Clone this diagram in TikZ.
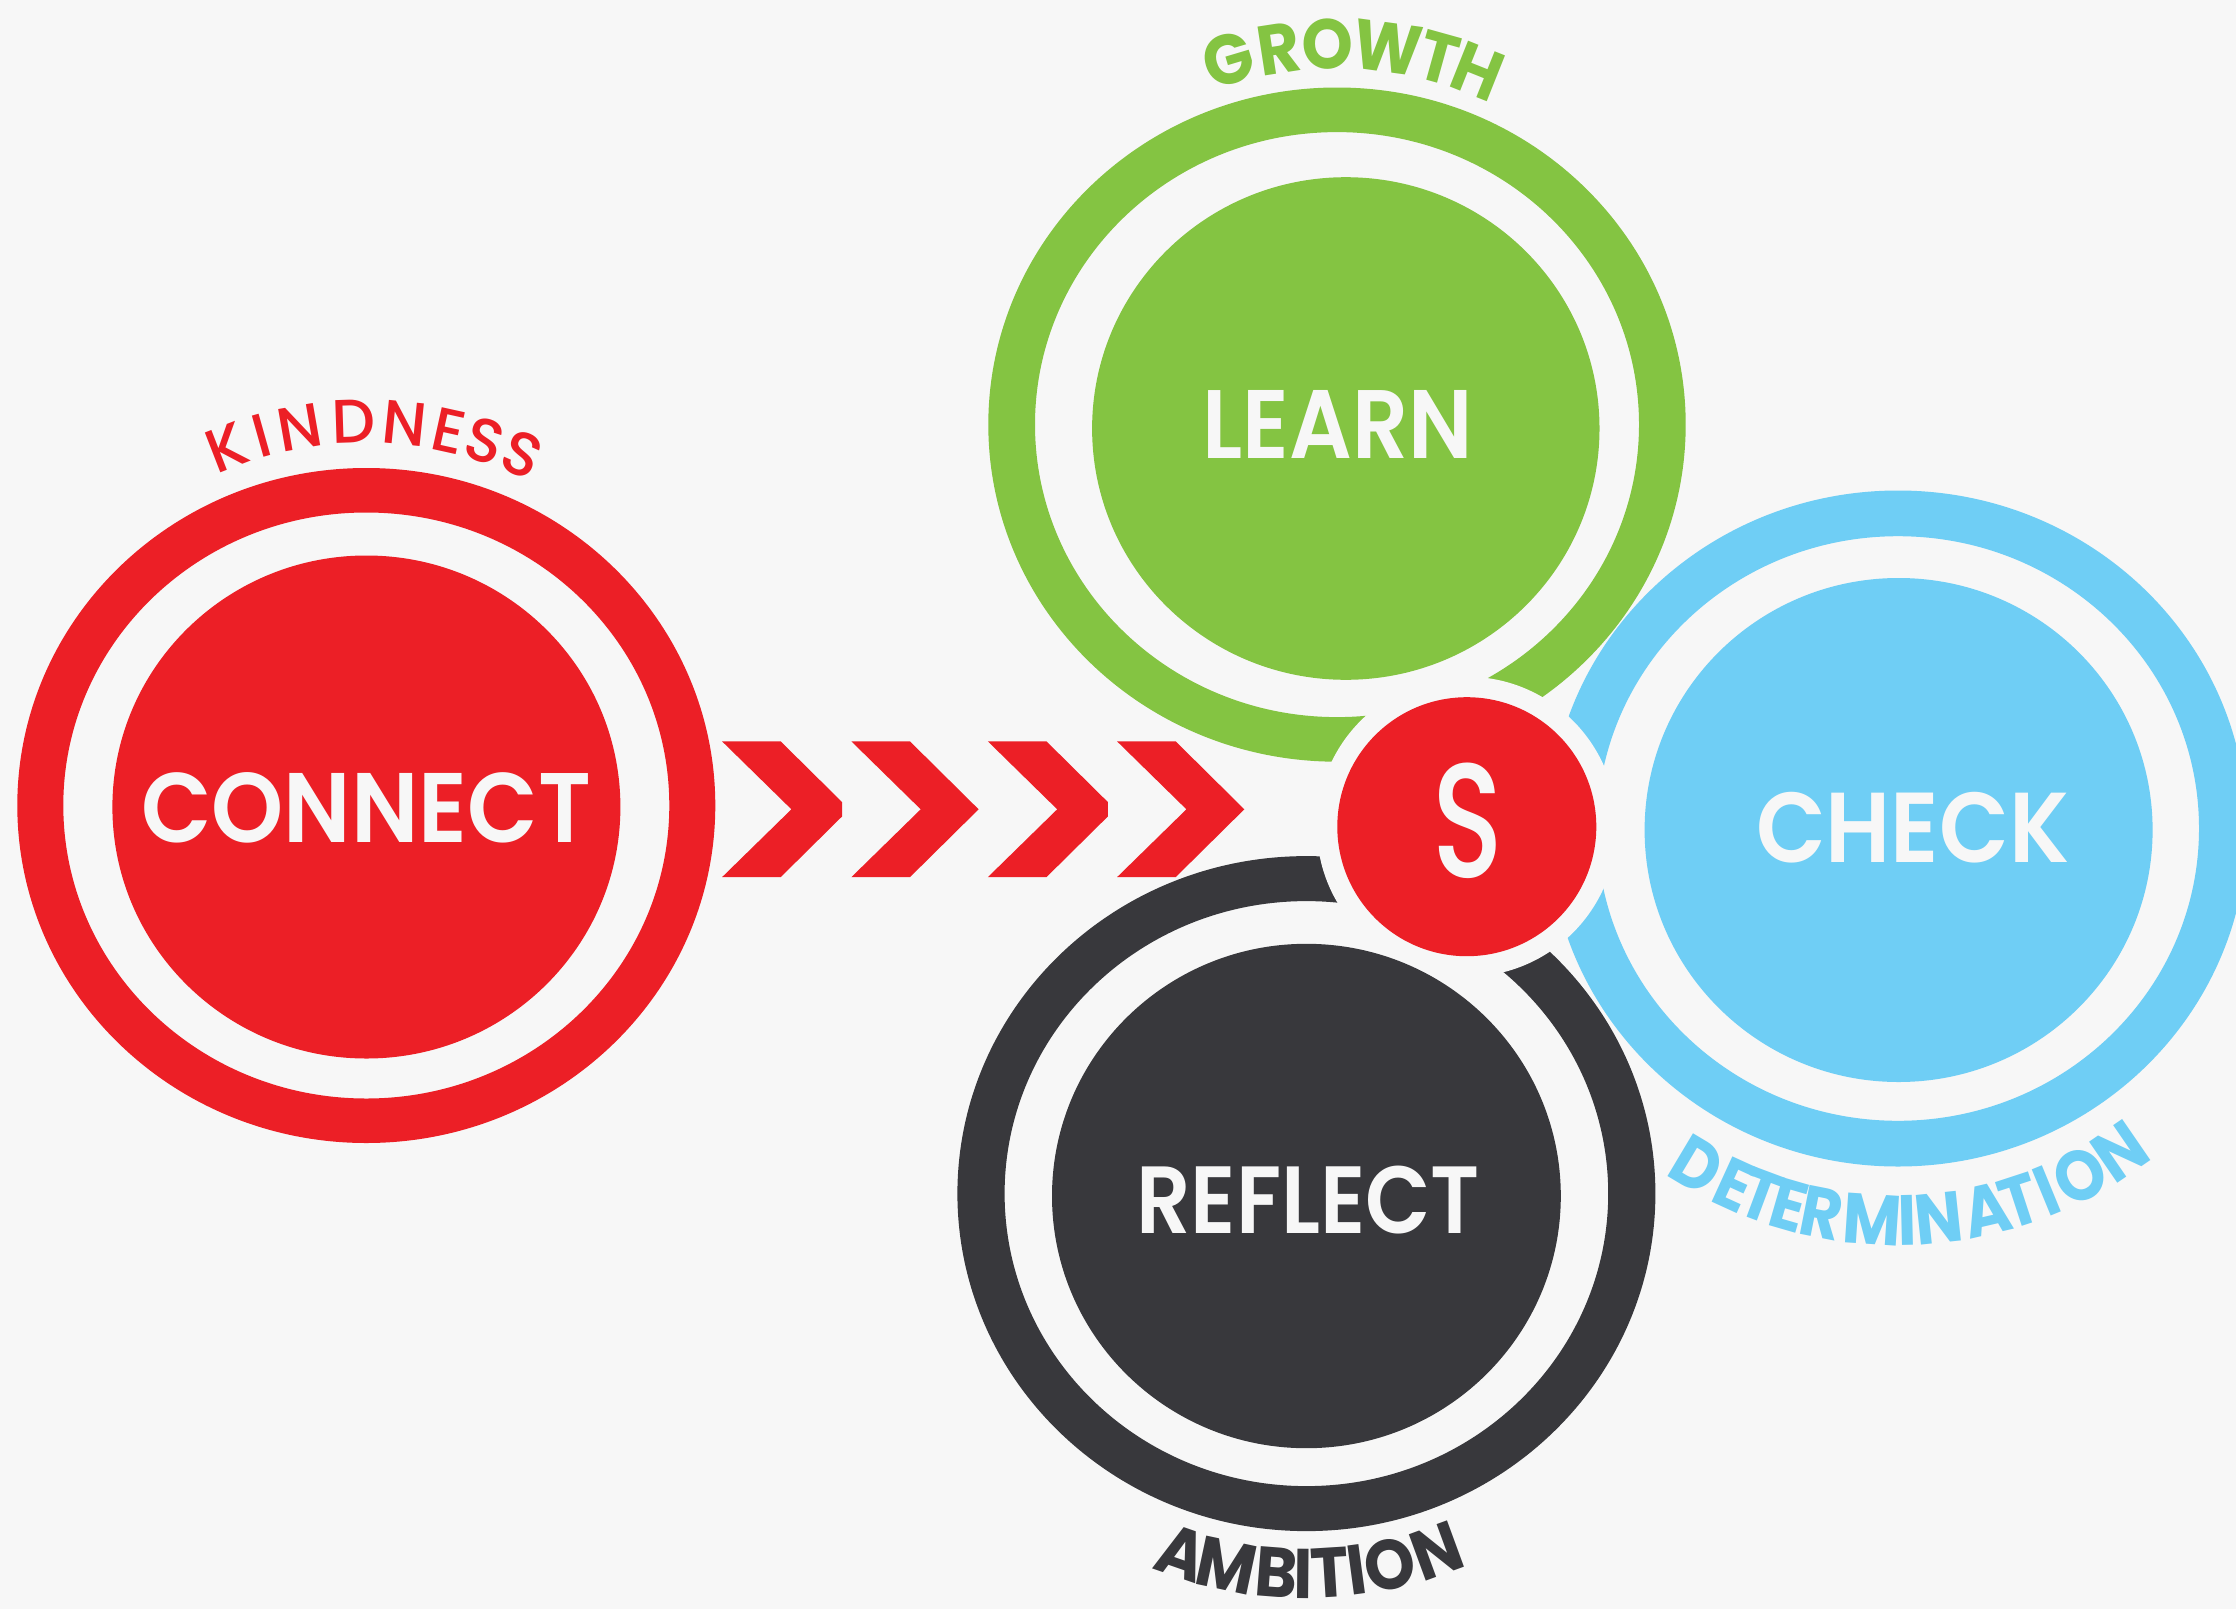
\documentclass[tikz,border=0pt]{standalone}
\usepackage{fontspec}
\usepackage{graphicx}
\setmainfont{Poppins}
\newfontfamily\popmed{Poppins Medium}
\newfontfamily\popsemi{Poppins SemiBold}
\definecolor{bg}{RGB}{247,247,247}
\definecolor{cred}{RGB}{236,31,38}
\definecolor{cgreen}{RGB}{132,196,66}
\definecolor{cblue}{RGB}{111,206,245}
\definecolor{cdark}{RGB}{56,56,60}
\begin{document}
\begin{tikzpicture}[x=0.01cm,y=-0.01cm,
  lab/.style={inner sep=0pt,text=bg,font=\popsemi},
  kindl/.style={inner sep=0pt,anchor=center,text=cred,font=\popmed\fontsize{17.5}{18}\selectfont},
  growl/.style={inner sep=0pt,anchor=center,text=cgreen,font=\bfseries\fontsize{20}{21}\selectfont},
  detl/.style={inner sep=0pt,anchor=center,text=cblue,font=\bfseries\fontsize{20.2}{21}\selectfont},
  ambl/.style={inner sep=0pt,anchor=center,text=cdark,font=\bfseries\fontsize{20}{21}\selectfont},
  chev/.style={fill=cred}]
\useasboundingbox (0,0) rectangle (2236,1609);
\fill[bg] (0,0) rectangle (2236,1609);

% rings
\fill[cred,even odd rule] (366.3,805.5) ellipse [x radius=349,y radius=337.5]
  (366.3,805.5) ellipse [x radius=303,y radius=293];
\fill[cgreen,even odd rule] (1337,424.6) ellipse [x radius=348.7,y radius=337.1]
  (1337,424.6) ellipse [x radius=302,y radius=292.5];
\fill[cblue,even odd rule] (1898,828.5) ellipse [x radius=349,y radius=338]
  (1898,828.5) ellipse [x radius=301,y radius=292.3];
\fill[cdark,even odd rule] (1306.4,1193.6) ellipse [x radius=349,y radius=337.5]
  (1306.4,1193.6) ellipse [x radius=301.8,y radius=292.5];

% gap around S
\fill[bg] (1466.8,826.7) circle [radius=150];

% inner discs
\fill[cred] (366.4,807) ellipse [x radius=254,y radius=251.5];
\fill[cgreen] (1345.8,428.5) ellipse [x radius=253.7,y radius=251.3];
\fill[cblue] (1898.6,830) ellipse [x radius=254,y radius=252];
\fill[cdark] (1306.4,1196) ellipse [x radius=254.4,y radius=252.2];

% S disc
\fill[cred] (1466.8,826.7) circle [radius=129.5];

% chevrons
\fill[chev] (722.1,741.4) -- ++(58.6,0) -- ++(61.4,60.7) -- ++(0,14.3) -- ++(-61.4,60.7) -- ++(-58.6,0) -- ++(69.3,-67.8) -- cycle;
\fill[chev] (851.4,741.4) -- ++(58.6,0) -- ++(68.6,67.9) -- ++(-68.6,67.8) -- ++(-58.6,0) -- ++(69.3,-67.8) -- cycle;
\fill[chev] (987.9,741.4) -- ++(58.6,0) -- ++(61.4,60.7) -- ++(0,14.3) -- ++(-61.4,60.7) -- ++(-58.6,0) -- ++(69.3,-67.8) -- cycle;
\fill[chev] (1117.1,741.4) -- ++(58.6,0) -- ++(68.6,67.9) -- ++(-68.6,67.8) -- ++(-58.6,0) -- ++(69.3,-67.8) -- cycle;

% main labels
\node[lab] (connect) at (366.2,807.8) {\resizebox*{4.493cm}{0.706cm}{CONNECT}};
\node[lab] (learn) at (1337.6,424.5) {\resizebox*{2.70cm}{0.68cm}{LEARN}};
\node[lab] (check) at (1912.7,827.3) {\resizebox*{3.132cm}{0.708cm}{CHECK}};
\node[lab] (reflect) at (1308.2,1200) {\resizebox*{3.435cm}{0.68cm}{REFLECT}};
\node[lab,font=\popmed] (s) at (1467.6,820.5) {\resizebox*{0.707cm}{1.156cm}{S}};

% curved labels (top)
\foreach \ch/\xx [count=\i] in {K/227,I/262,N/300,D/354,N/405,E/449,S/485,S/522}{
  \pgfmathsetmacro\ang{asin((\xx-366.2)/384)}
  \pgfmathsetmacro\rot{-\ang}
  \pgfmathsetmacro\yy{805.6-384*cos(\ang)}
  \node[kindl,rotate=\rot] (kind\i) at (\xx,\yy) {\ch};
}
\foreach \ch/\xx [count=\i] in {G/1228,R/1279,O/1328,W/1388,T/1439,H/1478}{
  \pgfmathsetmacro\ang{asin((\xx-1337)/380.6)}
  \pgfmathsetmacro\rot{-\ang}
  \pgfmathsetmacro\yy{424.6-380.6*cos(\ang)}
  \node[growl,rotate=\rot] (grow\i) at (\xx,\yy) {\scalebox{0.93}[1]{\ch}};
}
% curved labels (bottom)
\foreach \ch/\xx [count=\i] in {D/1697,E/1735,T/1761,E/1789,R/1822,M/1872,I/1907,N/1939,A/1987,T/2020,I/2047,O/2080,N/2120}{
  \pgfmathsetmacro\ang{asin((\xx-1898)/392)}
  \pgfmathsetmacro\yy{828.5+392*cos(\ang)}
  \node[detl,rotate=\ang] (det\i) at (\xx,\yy) {\scalebox{0.9}[1]{\ch}};
}
\foreach \ch/\xx [count=\i] in {A/1182,M/1227,B/1277,I/1303,T/1330,I/1357,O/1390,N/1437}{
  \pgfmathsetmacro\ang{asin((\xx-1306.4)/380)}
  \pgfmathsetmacro\yy{1193.6+380*cos(\ang)}
  \node[ambl,rotate=\ang] (amb\i) at (\xx,\yy) {\scalebox{0.92}[1]{\ch}};
}
\end{tikzpicture}
\end{document}
